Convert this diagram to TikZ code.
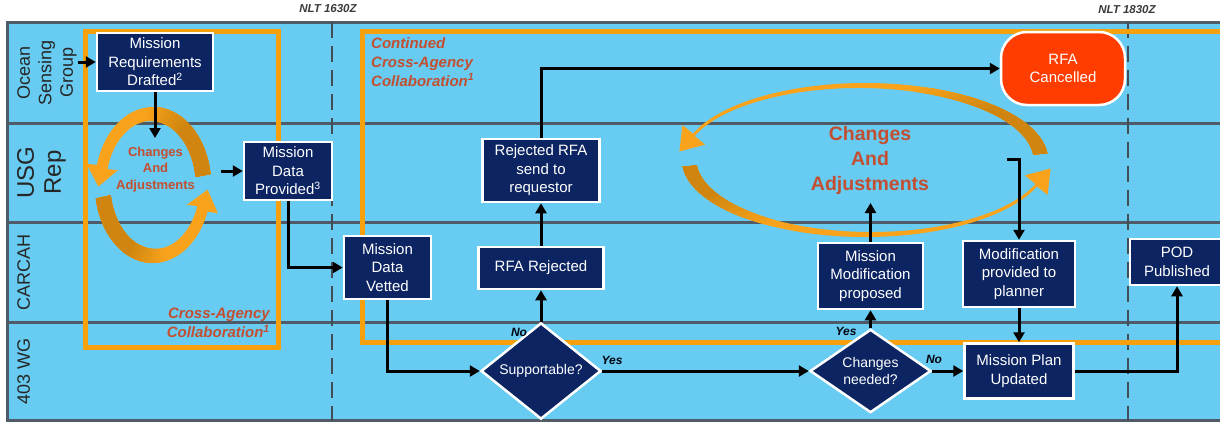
\documentclass[tikz,border=0pt]{standalone}
\usepackage{fontspec}
\setmainfont{Liberation Sans}
\usetikzlibrary{arrows.meta,shapes.geometric}

\definecolor{lanebg}{HTML}{68CBF1}
\definecolor{laneline}{HTML}{4F5B66}
\definecolor{navybox}{HTML}{0C2461}
\definecolor{orangeline}{HTML}{F5A00C}
\definecolor{loopdark}{HTML}{CF850F}
\definecolor{looplight}{HTML}{F8A31B}
\definecolor{notetext}{HTML}{C24F31}
\definecolor{cancelred}{HTML}{FF3D00}
\definecolor{nlttext}{HTML}{3A3A3A}

% Ribbon helpers: the band lies between an outer ellipse (\ocx,\ocy,\orx,\ory)
% and an inner ellipse (\icx,\icy,\irx,\iry); angles run in picture coordinates.
\newcommand{\ribbonpart}[3]{%
  \fill[#3] ({\ocx+\orx*cos(#1)},{\ocy+\ory*sin(#1)})
    arc[start angle=#1, end angle=#2, x radius=\orx, y radius=\ory]
    -- ({\icx+\irx*cos(#2)},{\icy+\iry*sin(#2)})
    arc[start angle=#2, end angle=#1, x radius=\irx, y radius=\iry]
    -- cycle;}
\newcommand{\ribbonfull}[5]{%
  \pgfmathsetmacro\rbmx{(\ocx+\orx*cos(#2)+\icx+\irx*cos(#2))/2}%
  \pgfmathsetmacro\rbmy{(\ocy+\ory*sin(#2)+\icy+\iry*sin(#2))/2}%
  \pgfmathsetmacro\rbtx{\orx*sin(#2)}%
  \pgfmathsetmacro\rbty{-\ory*cos(#2)}%
  \pgfmathsetmacro\rbtn{veclen(\rbtx,\rbty)}%
  \pgfmathsetmacro\rbux{\rbtx/\rbtn}%
  \pgfmathsetmacro\rbuy{\rbty/\rbtn}%
  \fill[#5] ({\ocx+\orx*cos(#1)},{\ocy+\ory*sin(#1)})
    arc[start angle=#1, end angle=#2, x radius=\orx, y radius=\ory]
    -- ({\rbmx-(#3)*(\rbuy)},{\rbmy+(#3)*(\rbux)})
    -- ({\rbmx+(#4)*(\rbux)},{\rbmy+(#4)*(\rbuy)})
    -- ({\rbmx+(#3)*(\rbuy)},{\rbmy-(#3)*(\rbux)})
    -- ({\icx+\irx*cos(#2)},{\icy+\iry*sin(#2)})
    arc[start angle=#2, end angle=#1, x radius=\irx, y radius=\iry]
    -- cycle;}
\newcommand{\ribbonshade}[3]{%
  \foreach \rbk in {1,...,8}{%
    \pgfmathsetmacro\rbang{#3+(#2-#3)*\rbk/9}%
    \pgfmathtruncatemacro\rbmix{\rbk*11}%
    \ribbonpart{#1}{\rbang}{loopdark!\rbmix!looplight}}%
  \ribbonpart{#1}{#2}{loopdark}}

\begin{document}
\begin{tikzpicture}[x=1pt,y=-1pt,
  proc/.style={draw=white, line width=2.5pt, fill=navybox, text=white,
    font=\fontsize{15}{18.5}\selectfont, align=center, inner sep=0pt},
  decision/.style={diamond, draw=white, line width=2.5pt, fill=navybox, text=white,
    font=\fontsize{14}{17}\selectfont, align=center, inner sep=0pt},
  flow/.style={line width=3pt, -{Triangle[length=10pt,width=11pt]}},
  lanelabel/.style={rotate=90, anchor=north, inner sep=0pt, align=center, text=black!85},
  notelbl/.style={text=notetext, font=\fontsize{15}{19}\selectfont\bfseries\itshape, inner sep=0pt},
  loopword/.style={text=notetext, align=center, inner sep=0pt},
  yn/.style={font=\fontsize{12}{14}\selectfont\bfseries\itshape, text=black!85!navybox, inner sep=0pt},
  nlt/.style={font=\fontsize{11.5}{13}\selectfont\bfseries\itshape, text=nlttext, inner sep=0pt},
  lane/.style={draw=laneline, line width=3pt},
  dashline/.style={draw=laneline!85!black, line width=2.5pt, dash pattern=on 16pt off 8pt},
  region/.style={draw=orangeline, line width=5pt}]
\useasboundingbox (0,0) rectangle (1220,421);

% swimlane panel
\fill[lanebg] (7,22) rectangle (1226,421);
\draw[lane] (1226,22) -- (7,22) -- (7,420) -- (1226,420);
\foreach \ly in {123,222,322} \draw[lane] (7,\ly) -- (1226,\ly);

% time limits
\draw[dashline] (332,22) -- (332,421);
\draw[dashline] (1128,22) -- (1128,421);
\node[nlt] (nlt1) at (328,9) {NLT 1630Z};
\node[nlt] (nlt2) at (1127,10) {NLT 1830Z};

% collaboration regions
\draw[region] (85,31) rectangle (278,347);
\draw[region] (1230,31) -- (362,31) -- (362,342) -- (1230,342);

% small change loop
\def\ocx{153}\def\ocy{185}\def\orx{58}\def\ory{78}
\def\icx{151}\def\icy{186}\def\irx{45}\def\iry{65}
\ribbonfull{-8}{-165}{16}{20}{looplight}
\ribbonshade{-8}{-55}{-100}
\def\icx{155}\def\icy{184}
\ribbonfull{170}{20}{16}{20}{looplight}
\ribbonshade{170}{115}{75}

% large change loop
\def\ocx{865}\def\ocy{160}\def\orx{183}\def\ory{77}
\def\icx{859}\def\icy{161}\def\irx{175}\def\iry{73}
\ribbonfull{-5}{-160}{15}{22}{looplight}
\ribbonshade{-5}{-45}{-75}
\def\icx{871}\def\icy{159}
\ribbonfull{175}{20}{15}{22}{looplight}
\ribbonshade{175}{150}{120}

% lane names
\node[lanelabel, font=\fontsize{18}{21.5}\selectfont] (osg) at (17,72.5) {Ocean\\Sensing\\Group};
\node[lanelabel, font=\fontsize{24}{27}\selectfont] (usg) at (17,172.5) {USG\\Rep};
\node[lanelabel, font=\fontsize{18}{21}\selectfont] (carcah) at (17,272) {CARCAH};
\node[lanelabel, font=\fontsize{18}{21}\selectfont] (wg) at (17,371.5) {403 WG};

% region and loop captions
\node[notelbl, anchor=north west, align=left] (contlbl) at (371,37) {Continued\\Cross-Agency\\Collaboration\textsuperscript{1}};
\node[notelbl, anchor=north east, align=right] (crosslbl) at (270,308) {Cross-Agency\\Collaboration\textsuperscript{1}};
\node[loopword, font=\fontsize{13}{16.5}\selectfont\bfseries] (smallcaa) at (155.5,169.5) {Changes\\And\\Adjustments};
\node[loopword, font=\fontsize{19.5}{25}\selectfont\bfseries] (bigcaa) at (870,160) {Changes\\And\\Adjustments};

% process steps
\node[proc, minimum width=116, minimum height=58] (mrd) at (155,62) {Mission\\Requirements\\Drafted\textsuperscript{2}};
\node[proc, minimum width=88, minimum height=58] (mdp) at (288,171) {Mission\\Data\\Provided\textsuperscript{3}};
\node[proc, minimum width=87, minimum height=63] (mdv) at (387.5,267.5) {Mission\\Data\\Vetted};
\node[proc, minimum width=125, minimum height=42] (rfarej) at (541,268) {RFA Rejected};
\node[proc, minimum width=117, minimum height=63] (rfasend) at (541,170.5) {Rejected RFA\\send to\\requestor};
\node[proc, fill=cancelred, rounded corners=26pt, minimum width=124, minimum height=73] (rfacan) at (1063,68.5) {RFA\\Cancelled};
\node[decision, minimum width=120, minimum height=78] (supp) at (541,371) {Supportable?};
\node[proc, minimum width=105, minimum height=66] (mmp) at (870.5,276) {Mission\\Modification\\proposed};
\node[proc, minimum width=112, minimum height=66] (mpp) at (1019,274) {Modification\\provided to\\planner};
\node[decision, minimum width=121, minimum height=79] (chg) at (870.5,371) {Changes\\needed?};
\node[proc, minimum width=109, minimum height=55] (mpu) at (1019,371) {Mission Plan\\Updated};
\node[proc, minimum width=94, minimum height=46] (pod) at (1177,262) {POD\\Published};

% decision labels
\node[yn] (no1) at (519,332) {No};
\node[yn] (yes1) at (612,360) {Yes};
\node[yn] (yes2) at (846,331) {Yes};
\node[yn] (no2) at (934,359) {No};

% connectors
\coordinate (osgin) at (78,62);
\coordinate (loopin) at (155,138);
\coordinate (mdpin) at (221,171);
\coordinate (mmpout) at (870.5,203);
\coordinate (brk) at (1007,159);
\draw[flow] (osgin) -- (mrd.west);
\draw[flow] (mrd.south) -- (loopin);
\draw[flow] (mdpin) -- (mdp.west);
\draw[flow] (mdp.south) |- (mdv.west);
\draw[flow] (mdv.south) |- (supp.west);
\draw[flow] (supp.north) -- (rfarej.south);
\draw[flow] (rfarej.north) -- (rfasend.south);
\draw[flow] (rfasend.north) |- (rfacan.west);
\draw[flow] (supp.east) -- (chg.west);
\draw[flow] (chg.north) -- (mmp.south);
\draw[flow] (mmp.north) -- (mmpout);
\draw[flow] (brk) -| (mpp.north);
\draw[flow] (mpp.south) -- (mpu.north);
\draw[flow] (chg.east) -- (mpu.west);
\draw[flow] (mpu.east) -| (pod.south);
\end{tikzpicture}
\end{document}
